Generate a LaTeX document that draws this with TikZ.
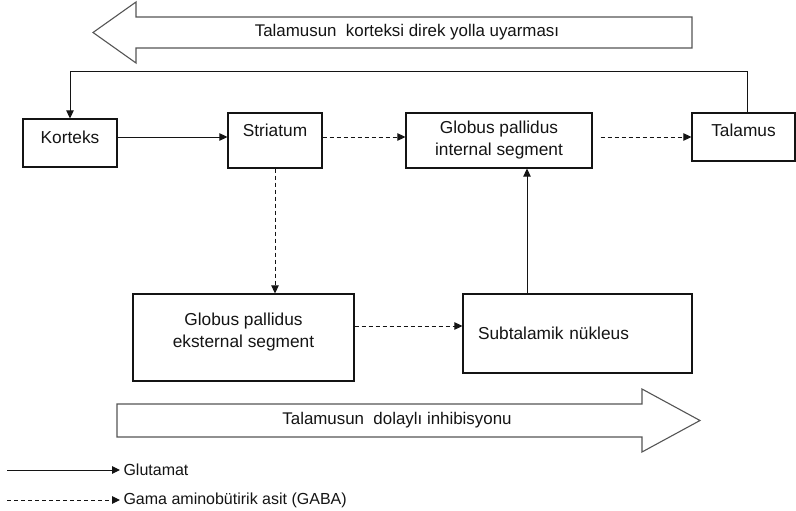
\documentclass[tikz,border=0pt]{standalone}
\usepackage{fontspec}
\setmainfont{Liberation Sans}
\usetikzlibrary{arrows.meta, positioning, calc}
\definecolor{pathgray}{RGB}{85, 85, 85}
\definecolor{inkblack}{RGB}{20, 20, 20}

\begin{document}
\begin{tikzpicture}[x=1pt, y=-1pt,
        box/.style={rectangle, draw=inkblack, line width=1.2pt, inner sep=0pt, align=center, font=\fontsize{17.3}{22}\selectfont, text=inkblack},
        glu/.style={-{Triangle[length=8pt, width=7.5pt]}, line width=1pt, inkblack},
        gaba/.style={glu, dash pattern=on 4pt off 3pt},
        bigarrow/.style={draw=pathgray, line width=1.1pt, fill=white},
        lbl/.style={font=\fontsize{16.9}{20}\selectfont, text=inkblack},
        key/.style={font=\fontsize{16}{19}\selectfont, text=inkblack}
      ]
        \useasboundingbox (0,0) rectangle (796,511);

        \draw[bigarrow] (692,17) -- (136,17) -- (136,2) -- (93,32.5) -- (136,63) -- (136,48) -- (692,48) -- cycle;
        \node[lbl] (direct) at (407,32.5) {Talamusun\ \ korteksi direk yolla uyarması};

        \node[box, minimum width=94pt, minimum height=48pt, text height=12.4pt, text depth=12pt] (korteks) at (70,143) {Korteks};
        \node[box, minimum width=94pt, minimum height=55pt, text height=12.4pt, text depth=20pt] (striatum) at (275,140.5) {Striatum};
        \node[box, minimum width=186pt, minimum height=55pt] (gpi) at (499,140.5) {Globus pallidus\\internal segment};
        \node[box, minimum width=103pt, minimum height=48pt, text height=12.4pt, text depth=14pt] (talamus) at (743.5,137) {Talamus};
        \node[box, minimum width=221pt, minimum height=87pt, text height=24pt] (gpe) at (243.5,337.5) {Globus pallidus\\eksternal segment};
        \node[box, minimum height=79pt, inner xsep=15pt, text width=199pt, align=left] (stn) at (577.5,333.5) {Subtalamik nükleus};

        \draw[glu] ([yshift=6pt]korteks.east) -- ([yshift=6pt]korteks.east -| striatum.west);
        \draw[gaba] ([yshift=3.5pt]striatum.east) -- ([yshift=3.5pt]striatum.east -| gpi.west);
        \draw[gaba, shorten <=8pt] ([yshift=3.5pt]gpi.east) -- ([yshift=3.5pt]gpi.east -| talamus.west);
        \draw[glu] ([xshift=3.5pt]talamus.north) -- ++(0,-41) -| (korteks.north);
        \draw[gaba] (striatum.south) -- (striatum.south |- gpe.north);
        \draw[gaba] ([yshift=11.5pt]gpe.east) -- ([yshift=11.5pt]gpe.east -| stn.west);
        \draw[glu] ([xshift=-50.5pt]stn.north) -- ([xshift=-50.5pt]stn.north |- gpi.south);

        \draw[bigarrow] (117,404) -- (642,404) -- (642,389) -- (700,420.5) -- (642,452) -- (642,437) -- (117,437) -- cycle;
        \node[lbl] (indirect) at (397,420.5) {Talamusun\ \ dolaylı inhibisyonu};

        \coordinate (glustart) at (7,470);
        \coordinate (gabastart) at (7,500);
        \node[key, anchor=west] (glutext) at (120,470) {Glutamat};
        \node[key, anchor=west] (gabatext) at (120,500) {Gama aminobütirik asit (GABA)};
        \draw[glu] (glustart) -- (glutext.west);
        \draw[gaba] (gabastart) -- (gabatext.west);
      \end{tikzpicture}
\end{document}
